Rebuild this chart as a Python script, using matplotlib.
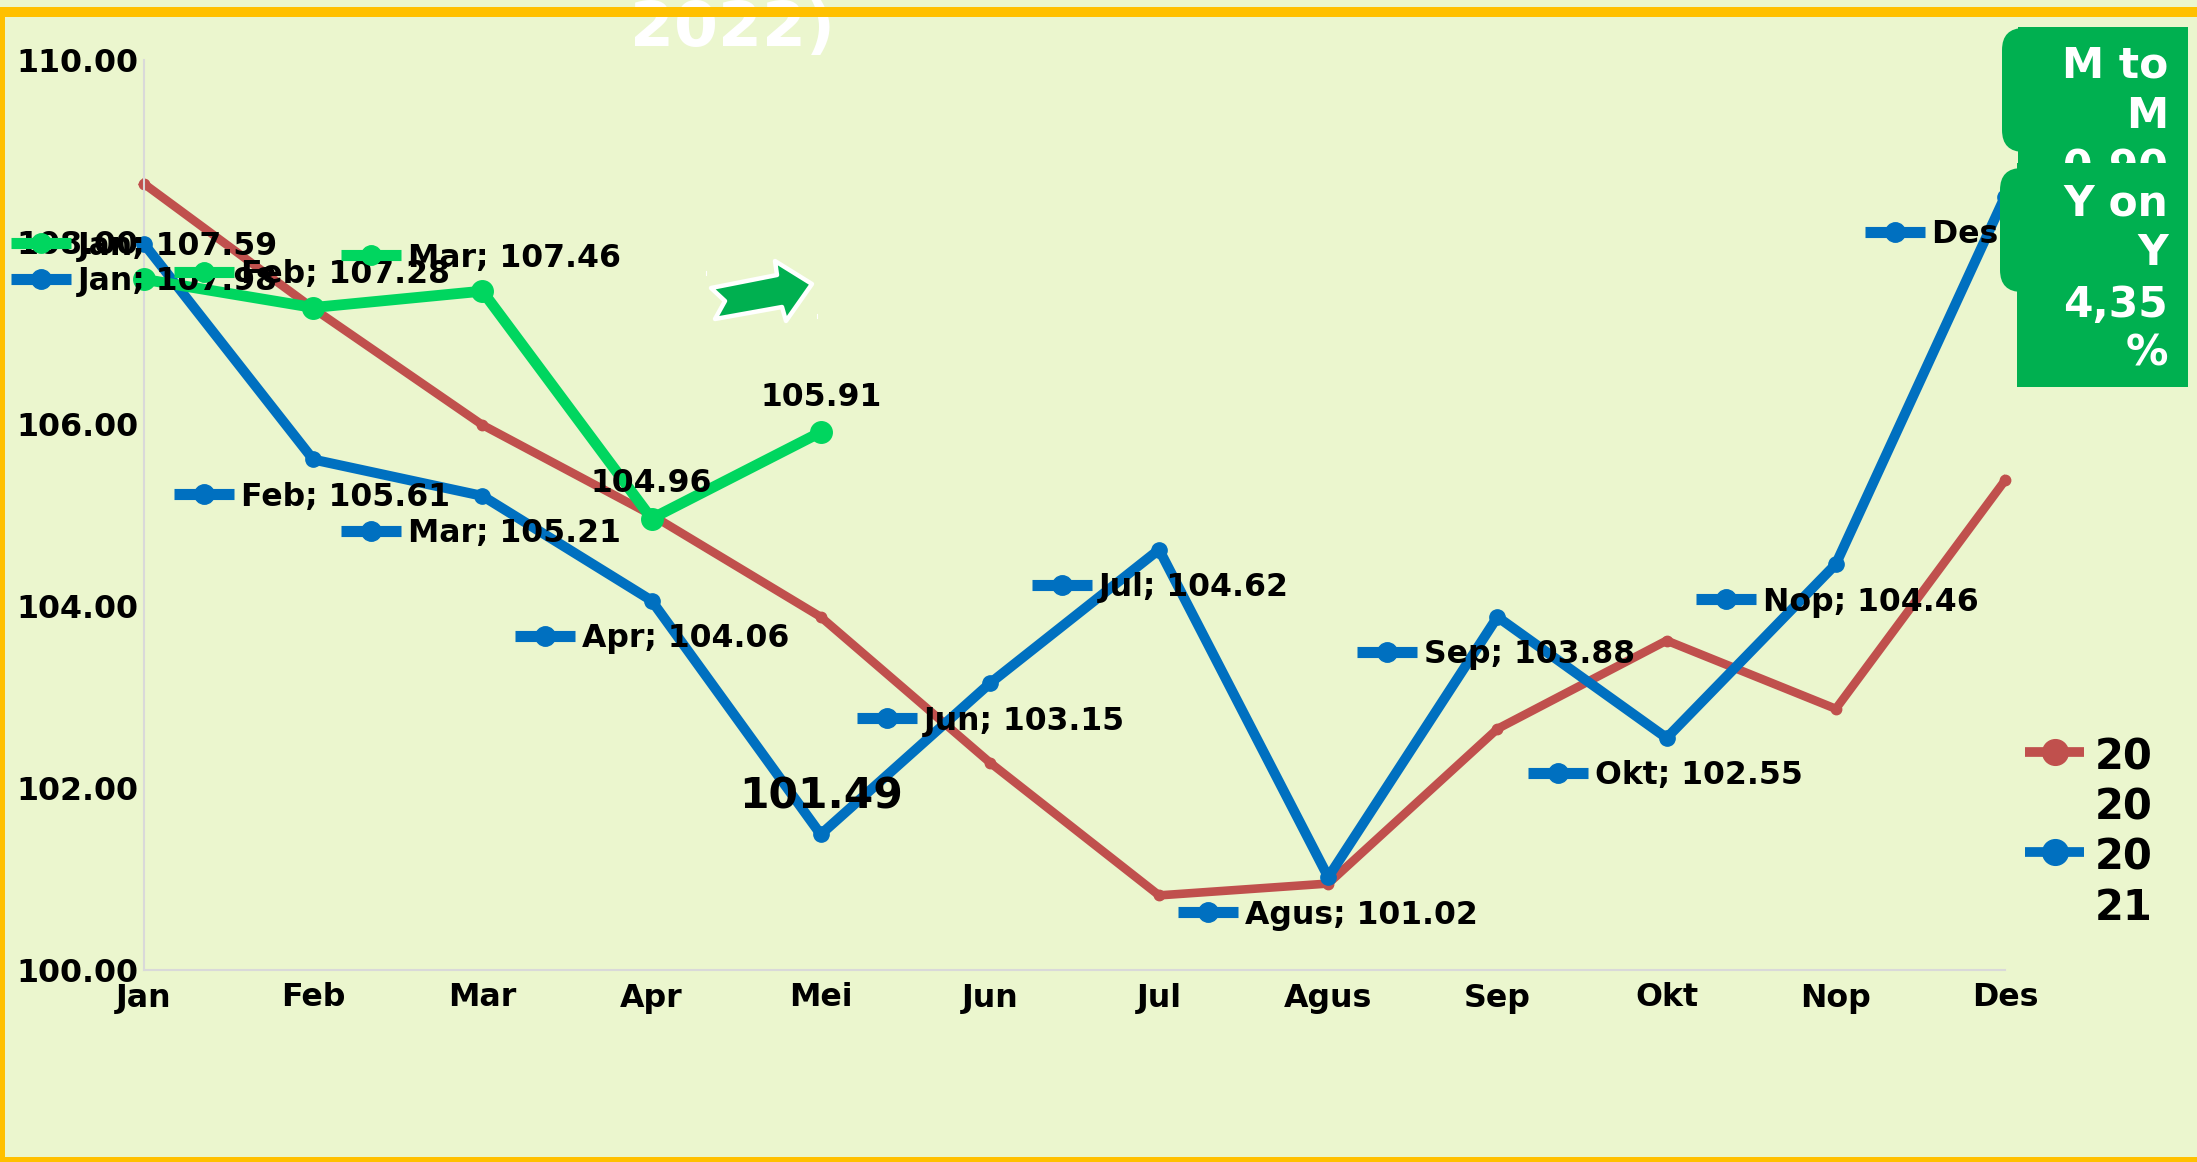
import matplotlib
matplotlib.use('Agg')
import matplotlib.pyplot as plt
from matplotlib.lines import Line2D
from matplotlib.patches import FancyBboxPatch, Polygon, Rectangle
from matplotlib.transforms import IdentityTransform

months = ['Jan', 'Feb', 'Mar', 'Apr', 'Mei', 'Jun', 'Jul', 'Agus', 'Sep', 'Okt', 'Nop', 'Des']
values_2020 = [108.64, 107.27, 105.99, 105.00, 103.88, 102.28, 100.82, 100.95, 102.65, 103.62, 102.87, 105.38]
values_2021 = [107.98, 105.61, 105.21, 104.06, 101.49, 103.15, 104.62, 101.02, 103.88, 102.55, 104.46, 108.50]
values_2022 = [107.59, 107.28, 107.46, 104.96, 105.91]
y_ticks = [100, 102, 104, 106, 108, 110]

# where the small keys start, pixels left of the point
key_dx_2021 = [-133, -139, -141, -137, 0, -133, -127, -150, -140, -139, -140, -140]
key_dx_2022 = [-133, -139, -141]

W, H = 2197, 1162
BG = '#EBF6CE'
RED = '#C0504D'
BLUE = '#0070C0'
GREEN = '#00D65F'
BOX = '#00B050'
GOLD = '#FFC000'

plt.rcParams['font.family'] = 'DejaVu Sans'
plt.rcParams['font.weight'] = 'bold'

fig = plt.figure(figsize=(W / 100, H / 100), dpi=100, facecolor=BG)
ax = fig.add_axes([144 / W, 1 - 970 / H, (2005 - 144) / W, (970 - 60) / H])
ax.set_facecolor('none')
ax.set_xlim(0, 11)
ax.set_ylim(100, 110)
for s in ['top', 'right']:
    ax.spines[s].set_visible(False)
for s in ['left', 'bottom']:
    ax.spines[s].set_color('#D9D9D9')
    ax.spines[s].set_linewidth(1.5)
ax.set_xticks(range(12))
ax.set_xticklabels(months)
ax.set_yticks(y_ticks)
ax.set_yticklabels(['%.2f' % v for v in y_ticks])
ax.tick_params(axis='both', length=0, labelsize=22.8)
ax.tick_params(axis='x', pad=9)
ax.tick_params(axis='y', pad=4)

ax.plot(range(12), values_2020, color=RED, lw=6.2, marker='o', ms=7.5, clip_on=False, zorder=2)
ax.plot(range(12), values_2021, color=BLUE, lw=7.2, marker='o', ms=11, clip_on=False, zorder=3)
ax.plot(range(5), values_2022, color=GREEN, lw=7.8, marker='o', ms=15.5, clip_on=False, zorder=4)


def key_label(i, v, text, color, dx, dy, z, clip=None):
    # little legend key + text placed next to the point, offsets in pixels
    px, py = ax.transData.transform((i, v))
    left = px + dx
    ax.add_line(Line2D([left, left + 60], [py + dy, py + dy], color=color, lw=8, solid_capstyle='butt',
                       transform=IdentityTransform(), clip_on=False, zorder=z))
    ax.add_line(Line2D([left + 30], [py + dy], color=color, marker='o', ms=14,
                       transform=IdentityTransform(), clip_on=False, zorder=z))
    t = ax.text(left + 67, py + dy - 3, text, fontsize=22.7, va='center', ha='left',
                transform=IdentityTransform(), zorder=z + 0.5)
    if clip is not None:
        t.set_clip_path(Rectangle((0, 0), clip, H, transform=IdentityTransform()))
        t.set_clip_on(True)


# labels of 2021 sit under the point, 2022 above
for i, v in enumerate(values_2021):
    if i == 4:
        continue
    key_label(i, v, '%s; %.2f' % (months[i], v), BLUE, key_dx_2021[i], -35, 6, clip=2000 if i == 11 else None)
for i, v in enumerate(values_2022[:3]):
    key_label(i, v, '%s; %.2f' % (months[i], v), GREEN, key_dx_2022[i], 36, 7 + i)

ax.annotate('%.2f' % values_2021[4], (4, values_2021[4]), xytext=(0, 27), textcoords='offset points',
            ha='center', va='center', fontsize=30.5, zorder=7)
ax.annotate('%.2f' % values_2022[3], (3, values_2022[3]), xytext=(0, 25), textcoords='offset points',
            ha='center', va='center', fontsize=22.7, zorder=7)
ax.annotate('%.2f' % values_2022[4], (4, values_2022[4]), xytext=(0, 25), textcoords='offset points',
            ha='center', va='center', fontsize=22.7, zorder=7)


def fx(x):
    return x / W


def fy(y):
    return 1 - y / H


def add_rect(x0, y0, x1, y1, color, z):
    fig.add_artist(Rectangle((fx(x0), fy(y1)), fx(x1 - x0), (y1 - y0) / H, transform=fig.transFigure,
                             facecolor=color, edgecolor='none', zorder=z))


def add_round(x0, y0, x1, y1, z):
    # rounded rectangle in pixel coordinates
    p = FancyBboxPatch((x0 + 22, H - y1 + 22), x1 - x0 - 44, y1 - y0 - 44, boxstyle='round,pad=22,rounding_size=22',
                       transform=IdentityTransform(), facecolor=BOX, edgecolor='none', zorder=z)
    fig.add_artist(p)


fig.text(fx(732), fy(46), '2022)', color='white', fontsize=45.5, ha='center', va='baseline', zorder=2)

# M to M box
add_rect(2018, 27, 2188, 250, BOX, 3)
add_round(2002, 28, 2100, 152, 3)
for txt, yc in [('M to', 65), ('M', 116), ('0,90', 168)]:
    t = fig.text(fx(2168), fy(yc), txt, color='white', fontsize=30.5, ha='right', va='center', zorder=4)
    t.set_clip_path(Rectangle((0, H - 163), W, 163, transform=IdentityTransform()))
    t.set_clip_on(True)

# Y on Y box
add_rect(2017, 163, 2188, 387, BOX, 5)
add_round(2000, 168, 2100, 292, 5)
for txt, yc in [('Y on', 203), ('Y', 253), ('4,35', 305), ('%', 354)]:
    fig.text(fx(2168), fy(yc), txt, color='white', fontsize=30.5, ha='right', va='center', zorder=6)

# arrow
arrow_px = [(711, 288), (777, 275), (775, 261), (812, 284), (786, 321), (782, 307), (715, 319), (725, 301)]
fig.add_artist(Polygon([(fx(x), fy(y)) for x, y in arrow_px], closed=True, transform=fig.transFigure,
                       facecolor=BOX, edgecolor='white', lw=3.2, joinstyle='round', zorder=3))
for x, y in [(706, 273), (817, 316)]:
    fig.add_artist(Line2D([fx(x), fx(x)], [fy(y - 2), fy(y + 2)], color='white', lw=0.8,
                          transform=fig.transFigure, zorder=3))

# legend
for yk, color, lab in [(752, RED, ['20', '20']), (852, BLUE, ['20', '21'])]:
    fig.add_artist(Line2D([fx(2025), fx(2084)], [fy(yk), fy(yk)], color=color, lw=7, solid_capstyle='butt',
                          transform=fig.transFigure, zorder=3))
    fig.add_artist(Line2D([fx(2055)], [fy(yk)], color=color, marker='o', ms=18.5,
                          transform=fig.transFigure, zorder=3))
    for n, part in enumerate(lab):
        fig.text(fx(2095), fy(yk + 6 + n * 50), part, fontsize=30, ha='left', va='center', zorder=3)

# border on top of everything
add_rect(0, 7, W, 17, GOLD, 8)
add_rect(0, 7, 5, H, GOLD, 8)
add_rect(0, H - 5, W, H, GOLD, 8)

fig.savefig('out.png', dpi=100, facecolor=BG)
